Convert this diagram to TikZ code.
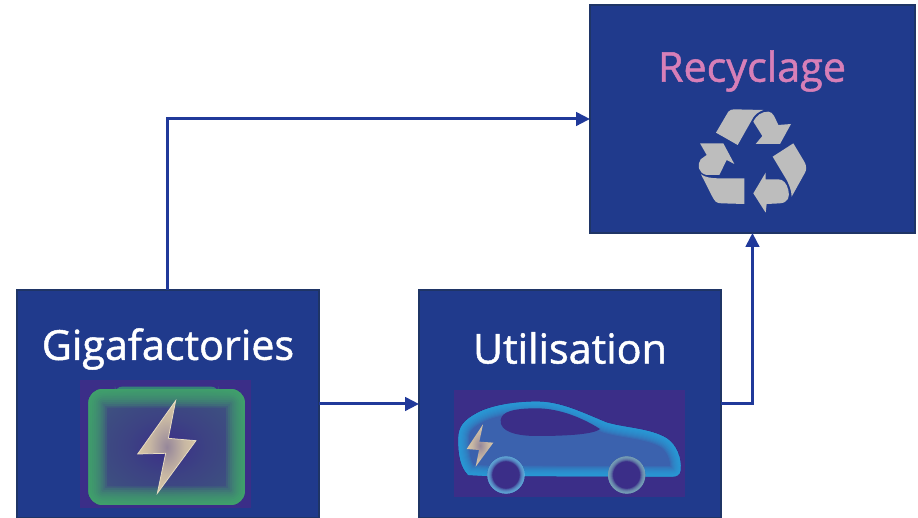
\documentclass[tikz,border=0pt]{standalone}
\usepackage{fontspec}
\newfontfamily\stagefont[FakeBold=1.2]{Open Sans}
\usetikzlibrary{arrows.meta}
\definecolor{stageblue}{HTML}{203A8C}
\definecolor{stageedge}{HTML}{1F3566}
\definecolor{flowblue}{HTML}{20399A}
\definecolor{imgpurple}{HTML}{3B2E88}
\definecolor{glowgreen}{HTML}{45B06A}
\definecolor{glowblue}{HTML}{27A5DE}
\definecolor{bodyblue}{HTML}{3B62AE}
\definecolor{boltsand}{HTML}{E0CFA8}
\definecolor{recygray}{HTML}{BDBDBD}
\definecolor{recypink}{HTML}{D77FB8}
\pgfdeclareradialshading{batteryglow}{\pgfpoint{0bp}{0bp}}{%
  color(0bp)=(imgpurple);
  color(12bp)=(imgpurple!85!glowgreen);
  color(35bp)=(imgpurple!65!glowgreen);
  color(50bp)=(imgpurple!65!glowgreen)}
\pgfdeclareradialshading{boltglow}{\pgfpoint{0bp}{0bp}}{%
  color(0bp)=(imgpurple!45!boltsand);
  color(15bp)=(boltsand!85!imgpurple);
  color(30bp)=(boltsand);
  color(50bp)=(boltsand)}
% fill with a soft edge: colour, edge colour, largest stroke, path
\newcommand\glowfill[4]{%
  \begin{scope}
    \clip #4;
    \fill[#1] #4;
    \foreach \wd in {1,.9,.8,.7,.6,.5,.4,.3,.2,.1}{
      \draw[#2,opacity=.16,line width=\wd*#3] #4;
    }
  \end{scope}}
\tikzset{
  stagebox/.style={draw=stageedge,fill=stageblue,line width=.03cm,outer sep=0pt,inner sep=0pt,minimum height=4.56cm},
  stagetext/.style={text=white,font=\stagefont\fontsize{23.5}{26}\selectfont},
  flow/.style={draw=flowblue,line width=.06cm,-{Triangle[length=.28cm,width=.27cm]}},
  zoomed/.style={x=.02cm/3,y=-.02cm/3},
}
\begin{document}
\begin{tikzpicture}[x=.02cm,y=-.02cm]
  \useasboundingbox (0,0) rectangle (918,517);
  \node[stagebox,minimum width=6.04cm,anchor=north west] (giga) at (17,290) {};
  \node[stagebox,minimum width=6.04cm,anchor=north west] (util) at (419,290) {};
  \node[stagebox,minimum width=6.5cm,anchor=north west] (recycle) at (590,5) {};
  \node[stagetext] (gigatext) at (168,349) {Gigafactories};
  \node[stagetext] (utiltext) at (570,348) {Utilisation};
  \node[stagetext,text=recypink] (recytext) at (752,71) {Recyclage};
  \draw[flow] (giga.north) |- (recycle.west);
  \draw[flow] (giga) -- (util);
  \draw[flow] (util.east) -| (recycle.south);
  % battery
  \begin{scope}[shift={(0,280)},zoomed]
    \fill[imgpurple] (240,300) rectangle (752,683);
    \fill[glowgreen!60!stageblue,rounded corners=4] (345,320) rectangle (655,340);
    \begin{scope}
      \clip[rounded corners=.28cm] (265,327) rectangle (735,675);
      \shade[shading=batteryglow] (265,327) rectangle (735,675);
      \foreach \wd in {1,.9,.8,.7,.6,.5,.4,.3,.2,.1}{
        \draw[glowgreen,opacity=.16,line width=\wd*.75cm,rounded corners=.28cm] (265,327) rectangle (735,675);
      }
    \end{scope}
    \shade[shading=boltglow,draw=boltsand!70!white,line width=.015cm]
      (527,362) -- (505,475) -- (588,482) -- (472,640) -- (497,520) -- (413,522) -- cycle;
  \end{scope}
  % car
  \begin{scope}[shift={(410,280)},zoomed]
    \fill[imgpurple] (133,330) rectangle (826,652);
    \glowfill{bodyblue}{glowblue}{.42cm}{(175,585) .. controls (150,560) and (145,520) .. (145,480)
      .. controls (145,440) and (160,420) .. (210,395)
      .. controls (260,372) and (330,365) .. (380,365)
      .. controls (450,365) and (510,395) .. (590,428)
      .. controls (650,445) and (720,445) .. (770,475)
      .. controls (800,495) and (815,535) .. (812,570)
      .. controls (810,585) and (800,590) .. (785,590)
      -- (230,588) -- cycle}
    \fill[imgpurple] (272,420) .. controls (275,395) and (310,385) .. (380,385)
      .. controls (450,385) and (520,415) .. (570,447)
      .. controls (550,465) and (450,468) .. (380,468)
      .. controls (320,468) and (268,455) .. (272,420) -- cycle;
    \glowfill{imgpurple}{glowblue!70!white}{.2cm}{(288,585) circle (56)}
    \glowfill{imgpurple}{glowblue!50!boltsand}{.2cm}{(650,585) circle (56)}
    \shade[shading=boltglow] (219,433) -- (208,485) -- (250,488) -- (197,560) -- (207,510) -- (170,507) -- cycle;
  \end{scope}
  % recycling sign
  \begin{scope}[shift={(590,0)},zoomed,fill=recygray]
    \fill (378,398) -- (415,335) .. controls (420,330) and (425,328) .. (432,328) -- (520,330)
      .. controls (505,335) and (495,345) .. (490,352) -- (443,435) -- cycle;
    \fill (490,365) .. controls (500,345) and (515,335) .. (535,335) .. controls (550,335) and (555,355) .. (565,375)
      -- (603,372) -- (570,432) -- (497,432) -- (517,408) -- cycle;
    \fill (548,470) -- (610,430) -- (643,485) .. controls (650,497) and (650,510) .. (645,518) -- (605,590)
      .. controls (605,570) and (595,550) .. (590,540) -- cycle;
    \fill (527,518) -- (490,580) -- (527,638) -- (530,612) -- (570,610) .. controls (595,608) and (600,590) .. (595,570)
      .. controls (590,550) and (580,538) .. (565,538) -- (527,538) -- cycle;
    \fill (333,523) .. controls (345,532) and (365,535) .. (385,535) -- (463,535) -- (463,612) -- (395,610)
      .. controls (380,610) and (375,605) .. (368,592) -- cycle;
    \fill (330,430) -- (400,430) -- (433,492) -- (410,480) -- (388,525) -- (350,525)
      .. controls (325,520) and (320,495) .. (332,478) -- (350,465) -- cycle;
  \end{scope}
\end{tikzpicture}
\end{document}
